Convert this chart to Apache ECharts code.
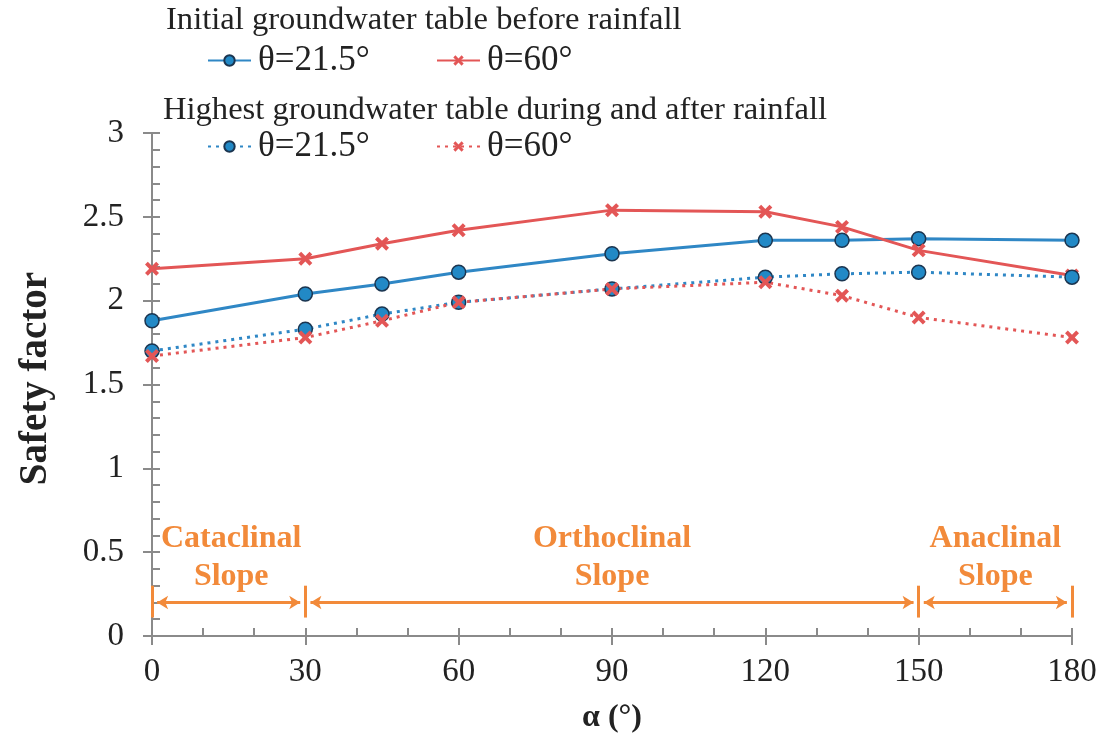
<!DOCTYPE html>
<html>
<head>
<meta charset="utf-8">
<script src="https://cdn.jsdelivr.net/npm/echarts@6/dist/echarts.min.js"></script>
<style>
  html, body { margin: 0; padding: 0; background: #fff; }
  #chart { width: 1105px; height: 744px; }
</style>
</head>
<body>
<div id="chart"></div>
<script>
// Dip-direction angle α (degrees) at which the safety factor was computed
const alphaDeg = [0, 30, 45, 60, 90, 120, 135, 150, 180];

// Safety factor, initial groundwater table before rainfall
const initialTheta215 = [1.88, 2.04, 2.10, 2.17, 2.28, 2.36, 2.36, 2.37, 2.36];
const initialTheta60  = [2.19, 2.25, 2.34, 2.42, 2.54, 2.53, 2.44, 2.30, 2.15];

// Safety factor, highest groundwater table during and after rainfall
const highestTheta215 = [1.70, 1.83, 1.92, 1.99, 2.07, 2.14, 2.16, 2.17, 2.14];
const highestTheta60  = [1.67, 1.78, 1.88, 1.99, 2.07, 2.11, 2.03, 1.90, 1.78];

// Axis ticks
const xTicks = { min: 0, max: 180, step: 30 };
const yTicks = { min: 0, max: 3, step: 0.5 };

// Slope-type zones along α
const zoneBounds = [0, 30, 150, 180];
const zoneNames = ['Cataclinal\nSlope', 'Orthoclinal\nSlope', 'Anaclinal\nSlope'];

const legendText = {
  init215: 'θ=21.5°',
  init60: 'θ=60°',
  high215: 'θ=21.5°',
  high60: 'θ=60°'
};

const BLUE_LINE = '#2F87C5';
const BLUE_FILL = '#2289C6';
const BLUE_EDGE = '#1B3550';
const RED = '#E35656';
const ORANGE = '#F28A3A';
const AXIS = '#8a8a8a';
const SERIF = '"Liberation Serif", "DejaVu Serif", serif';

const CROSS = 'path://M2,0 L5,3 L8,0 L10,2 L7,5 L10,8 L8,10 L5,7 L2,10 L0,8 L3,5 L0,2 Z';

const pairs = (ys) => alphaDeg.map((a, i) => [a, ys[i]]);

function blueSeries(name, ys, dotted) {
  return {
    name, type: 'line', data: pairs(ys),
    symbol: 'circle', symbolSize: 14,
    itemStyle: { color: BLUE_FILL, borderColor: BLUE_EDGE, borderWidth: 1.5 },
    lineStyle: { color: BLUE_LINE, width: 3, type: dotted ? [3, 5] : 'solid' },
    emphasis: { disabled: true }, animation: false
  };
}
function redSeries(name, ys, dotted) {
  return {
    name, type: 'line', data: pairs(ys),
    symbol: CROSS, symbolSize: 14,
    itemStyle: { color: RED, borderWidth: 0 },
    lineStyle: { color: RED, width: 3, type: dotted ? [3, 5] : 'solid' },
    emphasis: { disabled: true }, animation: false
  };
}

// Zone annotation: boundary bars, double-headed arrows and names
const barLines = zoneBounds.map(b => [
  { coord: [b, 0.11], symbol: 'none' },
  { coord: [b, 0.30], symbol: 'none' }
]);
const arrowLines = zoneNames.map((_, i) => [
  { coord: [zoneBounds[i] + 1, 0.2], symbol: 'arrow' },
  { coord: [zoneBounds[i + 1] - 1, 0.2], symbol: 'arrow' }
]);
const zoneLabels = zoneNames.map((t, i) => ({
  coord: [(zoneBounds[i] + zoneBounds[i + 1]) / 2 + (i === 0 ? 0.5 : 0), 0.465],
  value: t
}));

const legendBase = {
  orient: 'horizontal', padding: 0, itemGap: 0,
  itemWidth: 43, itemHeight: 13,
  selectedMode: false,
  formatter: (n) => legendText[n],
  textStyle: { fontFamily: SERIF, fontSize: 35, color: '#222', padding: [0, 0, 0, 2] }
};

const axisLineStyle = { show: true, lineStyle: { color: AXIS, width: 2 } };

const option = {
  backgroundColor: '#fff',
  animation: false,
  grid: { left: 152, right: 33, top: 133, bottom: 108, containLabel: false },
  legend: [
    Object.assign({}, legendBase, { data: ['init215'], left: 207, top: 43 }),
    Object.assign({}, legendBase, { data: ['init60'], left: 436, top: 43 }),
    Object.assign({}, legendBase, { data: ['high215'], left: 207, top: 129 }),
    Object.assign({}, legendBase, { data: ['high60'], left: 436, top: 129 })
  ],
  graphic: [
    { type: 'text', left: 166, top: 4, silent: true,
      style: { text: 'Initial groundwater table before rainfall', font: '32.6px ' + SERIF, fill: '#222' } },
    { type: 'text', left: 163, top: 94, silent: true,
      style: { text: 'Highest groundwater table during and after rainfall', font: '32.6px ' + SERIF, fill: '#222' } }
  ],
  xAxis: [
    {
      type: 'value', position: 'bottom',
      min: xTicks.min, max: xTicks.max, interval: xTicks.step,
      axisLine: Object.assign({ onZero: false }, axisLineStyle),
      axisTick: { show: true, inside: false, length: 9, lineStyle: { color: AXIS, width: 2 } },
      minorTick: { show: false },
      splitLine: { show: false },
      axisLabel: { fontFamily: SERIF, fontSize: 33, color: '#222', margin: 20 },
      name: 'α (°)', nameLocation: 'middle', nameGap: 66,
      nameTextStyle: { fontFamily: SERIF, fontSize: 32, fontWeight: 'bold', color: '#222' }
    },
    {
      type: 'value', position: 'bottom',
      min: xTicks.min, max: xTicks.max, interval: xTicks.step,
      axisLine: { show: false, onZero: false },
      axisTick: { show: true, inside: true, length: 8, lineStyle: { color: AXIS, width: 2 } },
      minorTick: { show: true, splitNumber: 3, length: 8, lineStyle: { color: AXIS, width: 2 } },
      splitLine: { show: false },
      axisLabel: { show: false }
    }
  ],
  yAxis: [
    {
      type: 'value', position: 'left',
      min: yTicks.min, max: yTicks.max, interval: yTicks.step,
      axisLine: Object.assign({ onZero: false }, axisLineStyle),
      axisTick: { show: true, inside: false, length: 9, lineStyle: { color: AXIS, width: 2 } },
      minorTick: { show: false },
      splitLine: { show: false },
      axisLabel: { fontFamily: SERIF, fontSize: 33, color: '#222', margin: 28 },
      name: 'Safety factor', nameLocation: 'middle', nameGap: 97,
      nameTextStyle: { fontFamily: SERIF, fontSize: 39, fontWeight: 'bold', color: '#222', padding: [0, 0, 0, 12] }
    },
    {
      type: 'value', position: 'left',
      min: yTicks.min, max: yTicks.max, interval: yTicks.step,
      axisLine: { show: false, onZero: false },
      axisTick: { show: true, inside: true, length: 8, lineStyle: { color: AXIS, width: 2 } },
      minorTick: { show: true, splitNumber: 5, length: 8, lineStyle: { color: AXIS, width: 2 } },
      splitLine: { show: false },
      axisLabel: { show: false }
    }
  ],
  series: [
    {
      name: 'zones', type: 'line', data: [], silent: true,
      markLine: {
        silent: true, animation: false,
        symbolSize: [10, 11],
        label: { show: false },
        lineStyle: { color: ORANGE, width: 3, type: 'solid' },
        emphasis: { disabled: true },
        data: barLines.concat(arrowLines)
      },
      markPoint: {
        silent: true, animation: false,
        symbol: 'circle', symbolSize: 0,
        label: {
          show: true, position: 'inside',
          formatter: (p) => p.value,
          fontFamily: SERIF, fontSize: 32, fontWeight: 'bold',
          color: ORANGE, lineHeight: 38, align: 'center', verticalAlign: 'middle'
        },
        data: zoneLabels
      }
    },
    blueSeries('init215', initialTheta215, false),
    redSeries('init60', initialTheta60, false),
    blueSeries('high215', highestTheta215, true),
    redSeries('high60', highestTheta60, true)
  ]
};

const chart = echarts.init(document.getElementById('chart'), null, { renderer: 'canvas' });
chart.setOption(option);
</script>
</body>
</html>
